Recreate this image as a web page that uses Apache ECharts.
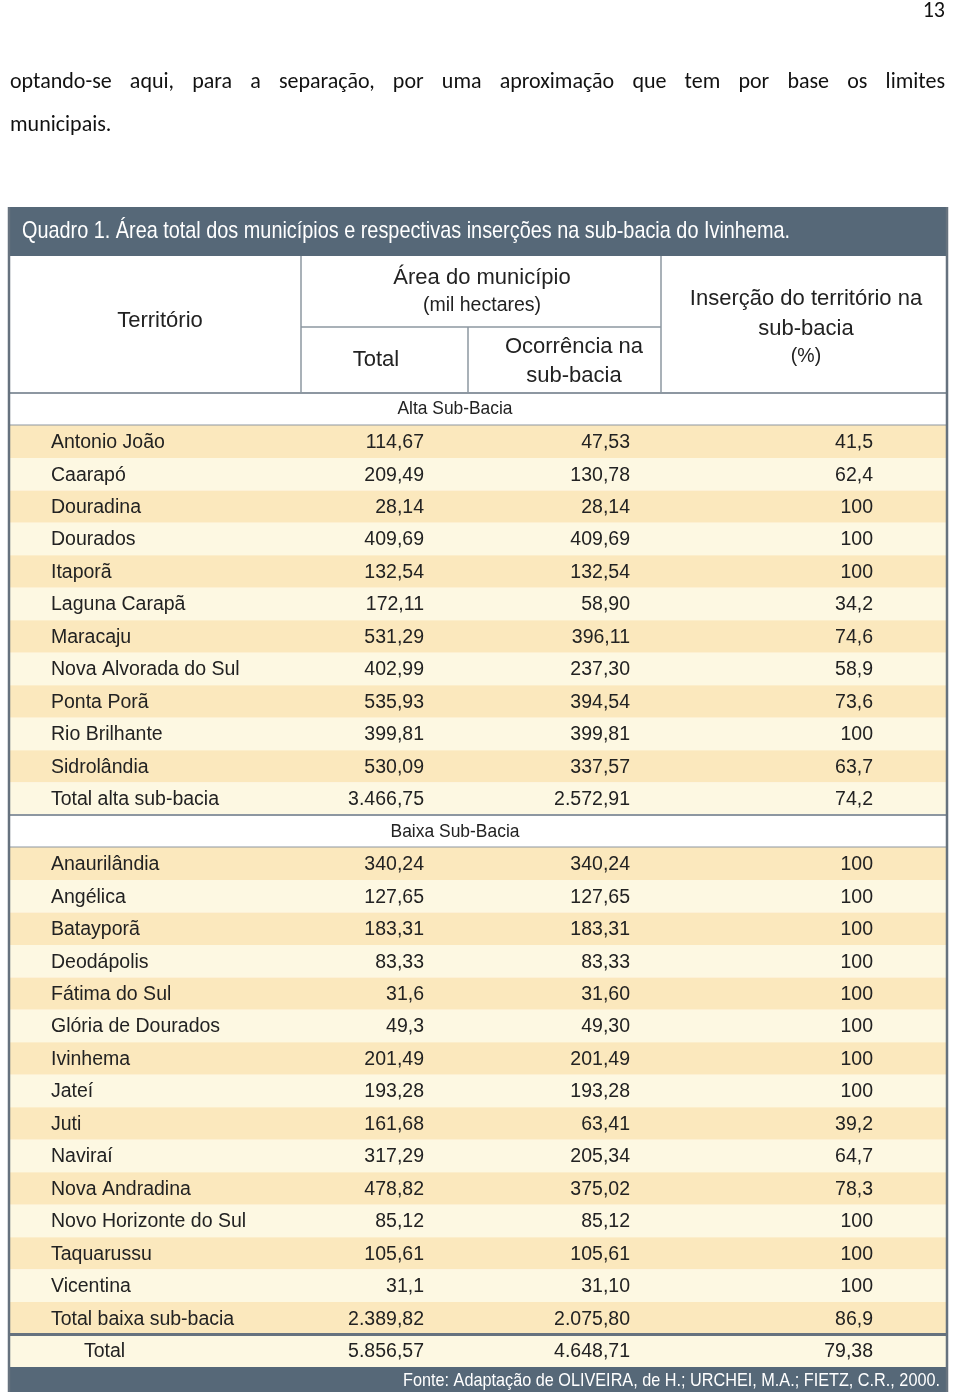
<!DOCTYPE html>
<html><head><meta charset="utf-8">
<script src="https://cdn.jsdelivr.net/npm/echarts@6/dist/echarts.min.js"></script>
<style>html,body{margin:0;padding:0;background:#fff}#c{width:960px;height:1395px}</style>
</head><body><div id="c"></div>
<script>
// ---------- text & data ----------
const pageNumber = '13';
const paragraphLines = ['optando-se aqui, para a separação, por uma aproximação que tem por base os limites', 'municipais.'];
const tableTitle = 'Quadro 1. Área total dos municípios e respectivas inserções na sub-bacia do Ivinhema.';
const sourceNote = 'Fonte: Adaptação de OLIVEIRA, de H.; URCHEI, M.A.; FIETZ, C.R., 2000.';
const headTerritorio = 'Território';
const headArea = ['Área do município', '(mil hectares)'];
const headTotal = 'Total';
const headOcorr = ['Ocorrência na', 'sub-bacia'];
const headInsercao = ['Inserção do território na', 'sub-bacia', '(%)'];

const altaLabel = 'Alta Sub-Bacia';
const altaNames = ['Antonio João','Caarapó','Douradina','Dourados','Itaporã','Laguna Carapã','Maracaju','Nova Alvorada do Sul','Ponta Porã','Rio Brilhante','Sidrolândia'];
const altaTotal = ['114,67','209,49','28,14','409,69','132,54','172,11','531,29','402,99','535,93','399,81','530,09'];
const altaOcorr = ['47,53','130,78','28,14','409,69','132,54','58,90','396,11','237,30','394,54','399,81','337,57'];
const altaPct   = ['41,5','62,4','100','100','100','34,2','74,6','58,9','73,6','100','63,7'];
const altaSum   = ['Total alta sub-bacia','3.466,75','2.572,91','74,2'];

const baixaLabel = 'Baixa Sub-Bacia';
const baixaNames = ['Anaurilândia','Angélica','Batayporã','Deodápolis','Fátima do Sul','Glória de Dourados','Ivinhema','Jateí','Juti','Naviraí','Nova Andradina','Novo Horizonte do Sul','Taquarussu','Vicentina'];
const baixaTotal = ['340,24','127,65','183,31','83,33','31,6','49,3','201,49','193,28','161,68','317,29','478,82','85,12','105,61','31,1'];
const baixaOcorr = ['340,24','127,65','183,31','83,33','31,60','49,30','201,49','193,28','63,41','205,34','375,02','85,12','105,61','31,10'];
const baixaPct   = ['100','100','100','100','100','100','100','100','39,2','64,7','78,3','100','100','100'];
const baixaSum   = ['Total baixa sub-bacia','2.389,82','2.075,80','86,9'];

const grandTotal = ['Total','5.856,57','4.648,71','79,38'];

// ---------- layout & style ----------
const L = {tl:8, tr:948, titleTop:207, titleBot:256, headBot:393, bodyBot:1367, footBot:1392,
  c1:301, c2:468, c3:661, headMid:327, nameX:51, totNameX:84, totR:424, occR:630, pctR:873, secC:455};
const C = {bar:'#566878', dark:'#fbe8bd', light:'#fdf8e2', text:'#222', line:'#8d97a1', border:'#66727e'};
const F = '"Liberation Sans", Arimo, Arial, sans-serif';
const PF = 'Carlito, Lato, sans-serif';

const cv = document.createElement('canvas').getContext('2d');
function measure(t, size, fam){ cv.font = size + 'px ' + fam; return cv.measureText(t).width; }
// horizontally condensed text fitted to a target width (narrow typeface look)
function narrowText(t, x, y, size, targetW, align, fill, z){
  const w = measure(t, size, F);
  const s = targetW / w;
  return {type:'text', z, x, y, scaleX:s, scaleY:1,
    style:{text:t, x:0, y:0, textAlign:align, textVerticalAlign:'middle', fontSize:size, fontFamily:F, fill}};
}

// ---------- rows ----------
const rows = [];
function block(label, names, tot, occ, pct, sum) {
  rows.push({kind:'section', label});
  names.forEach((n,i)=>rows.push({kind:'row', label:n, v:[tot[i],occ[i],pct[i]], shade:i%2===0}));
  rows.push({kind:'row', label:sum[0], v:sum.slice(1), shade:names.length%2===0});
}
block(altaLabel, altaNames, altaTotal, altaOcorr, altaPct, altaSum);
block(baixaLabel, baixaNames, baixaTotal, baixaOcorr, baixaPct, baixaSum);
rows.push({kind:'grand', label:grandTotal[0], v:grandTotal.slice(1), shade:false});

// ---------- page text ----------
const graphics = [];
graphics.push({type:'text', z:100, style:{text:pageNumber, x:945, y:11, textAlign:'right', textVerticalAlign:'middle', fontSize:22, fontFamily:PF, fill:'#111'}});
(function(){
  const words = paragraphLines[0].split(' ');
  const ws = words.map(w=>measure(w, 22, PF));
  const gap = (945 - 10 - ws.reduce((a,b)=>a+b,0))/(words.length-1);
  let x = 10;
  words.forEach((w,i)=>{ graphics.push({type:'text', z:100, style:{text:w, x, y:82, textVerticalAlign:'middle', fontSize:22, fontFamily:PF, fill:'#111'}}); x += ws[i]+gap; });
  graphics.push({type:'text', z:100, style:{text:paragraphLines[1], x:10, y:125, textVerticalAlign:'middle', fontSize:22, fontFamily:PF, fill:'#111'}});
})();

// title bar
graphics.push({type:'rect', z:50, shape:{x:L.tl, y:L.titleTop, width:L.tr-L.tl, height:L.titleBot-L.titleTop}, style:{fill:C.bar}});
graphics.push(narrowText(tableTitle, 22, (L.titleTop+L.titleBot)/2, 24, 768, 'left', '#fff', 60));
// footer bar
graphics.push({type:'rect', z:50, shape:{x:L.tl, y:L.bodyBot, width:L.tr-L.tl, height:L.footBot-L.bodyBot}, style:{fill:C.bar}});
graphics.push(narrowText(sourceNote, 940, (L.bodyBot+L.footBot)/2+1, 19, 537, 'right', '#fff', 60));
// header lines
function ln(x1,y1,x2,y2,col,w){graphics.push({type:'line', z:70, shape:{x1,y1,x2,y2}, style:{stroke:col, lineWidth:w}});}
ln(L.c1, L.titleBot, L.c1, L.headBot, C.line, 1.5);
ln(L.c3, L.titleBot, L.c3, L.headBot, C.line, 1.5);
ln(L.c1, L.headMid, L.c3, L.headMid, C.line, 1.5);
ln(L.c2, L.headMid, L.c2, L.headBot, C.line, 1.5);
// header texts
function ht(t,x,y,s){graphics.push({type:'text', z:70, style:{text:t, x, y, textAlign:'center', textVerticalAlign:'middle', fontSize:s, fontFamily:F, fill:C.text}});}
ht(headTerritorio, 160, 321, 22);
ht(headArea[0], 482, 278, 22); ht(headArea[1], 482, 306, 19.5);
ht(headTotal, 376, 360, 22);
ht(headOcorr[0], 574, 347, 22); ht(headOcorr[1], 574, 376, 22);
ht(headInsercao[0], 806, 299, 22); ht(headInsercao[1], 806, 329, 22); ht(headInsercao[2], 806, 357, 19.5);
// outer borders
ln(L.tl+1, L.titleTop, L.tl+1, L.footBot, C.border, 2.5);
ln(L.tr-1, L.titleTop, L.tr-1, L.footBot, C.border, 2.5);

// ---------- chart ----------
const secWidths = {[altaLabel]:115, [baixaLabel]:129};
const chart = echarts.init(document.getElementById('c'), null, {renderer:'canvas'});
chart.setOption({
  backgroundColor:'#fff',
  animation:false,
  grid:{left:L.tl, top:L.headBot, width:L.tr-L.tl, height:L.bodyBot-L.headBot},
  xAxis:{type:'value', min:0, max:1, show:false},
  yAxis:{type:'category', data:rows.map(r=>r.label), inverse:true, show:false},
  graphic:graphics,
  series:[{
    type:'custom', z:2,
    data:rows.map((r,i)=>[0.5,i]),
    encode:{x:0,y:1},
    renderItem:function(params, api){
      const r = rows[params.dataIndex];
      const c = api.coord([0, params.dataIndex]);
      const h = api.size([0,1])[1];
      const top = c[1]-h/2, yc = c[1];
      const x0 = params.coordSys.x, w = params.coordSys.width;
      const ch = [];
      const txt = (t,x,align,size)=>({type:'text', style:{text:t, x, y:yc+1, textAlign:align, textVerticalAlign:'middle', fontSize:size, fontFamily:F, fill:C.text}});
      if (r.kind==='section') {
        ch.push({type:'rect', shape:{x:x0, y:top, width:w, height:h}, style:{fill:'#fff'}});
        ch.push({type:'line', shape:{x1:x0, y1:top, x2:x0+w, y2:top}, style:{stroke:C.line, lineWidth:2}});
        ch.push({type:'line', shape:{x1:x0, y1:top+h, x2:x0+w, y2:top+h}, style:{stroke:C.line, lineWidth:2}});
        const t = narrowText(r.label, L.secC, yc, 19, secWidths[r.label] || 120, 'center', C.text, 0);
        delete t.z;
        ch.push(t);
      } else {
        ch.push({type:'rect', shape:{x:x0, y:top, width:w, height:h}, style:{fill:r.shade?C.dark:C.light}});
        if (r.kind==='grand') ch.push({type:'line', shape:{x1:x0, y1:top, x2:x0+w, y2:top}, style:{stroke:C.border, lineWidth:3}});
        ch.push(txt(r.label, r.kind==='grand'?L.totNameX:L.nameX, 'left', 19.5));
        ch.push(txt(r.v[0], L.totR, 'right', 19.5));
        ch.push(txt(r.v[1], L.occR, 'right', 19.5));
        ch.push(txt(r.v[2], L.pctR, 'right', 19.5));
      }
      return {type:'group', children:ch};
    }
  }]
});
</script></body></html>
